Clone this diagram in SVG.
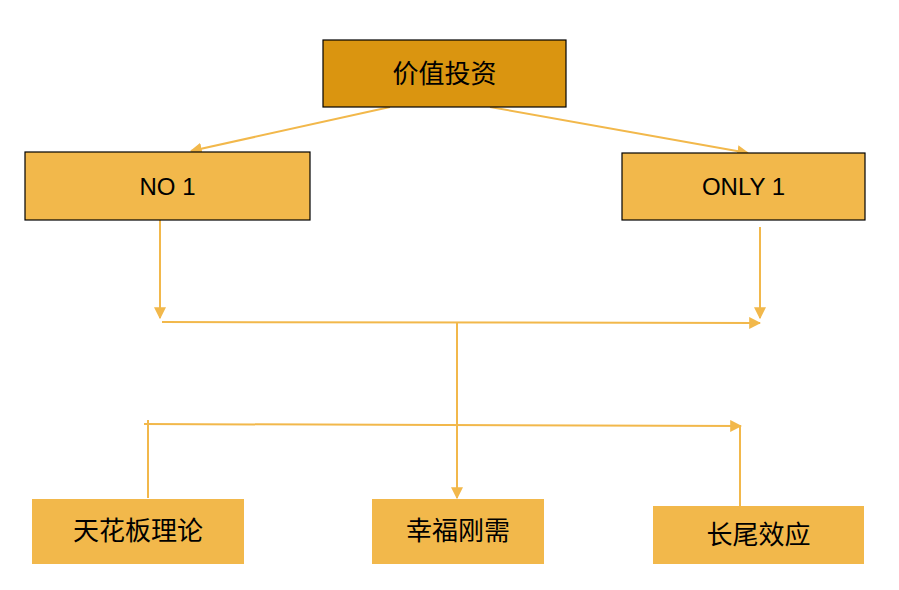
<svg xmlns="http://www.w3.org/2000/svg" width="899" height="590" viewBox="0 0 899 590">
<style>
.n{fill:#F2B84B}
.b{stroke:#000;stroke-width:1.2}
.t{font-family:"Liberation Sans","Noto Sans CJK SC",sans-serif;fill:#000;text-anchor:middle;dominant-baseline:central}
.c{stroke:#F2B84B;stroke-width:2;fill:none}
</style>
<defs>
<marker id="a" viewBox="0 0 10 10" refX="9" refY="5" markerWidth="6" markerHeight="6" orient="auto" markerUnits="strokeWidth">
<path d="M0,0L10,5L0,10z" fill="#F2B84B"/>
</marker>
</defs>
<rect width="899" height="590" fill="#fff"/>
<g id="connectors">
<line class="c" x1="390" y1="107" x2="191" y2="151" marker-end="url(#a)"/>
<line class="c" x1="490" y1="107" x2="748" y2="153" marker-end="url(#a)"/>
<line class="c" x1="160" y1="220" x2="160" y2="318" marker-end="url(#a)"/>
<line class="c" x1="760" y1="227" x2="760" y2="318" marker-end="url(#a)"/>
<line class="c" x1="162" y1="322" x2="760" y2="323" marker-end="url(#a)"/>
<line class="c" x1="457" y1="322" x2="457" y2="498" marker-end="url(#a)"/>
<line class="c" x1="148" y1="498" x2="148" y2="420"/>
<line class="c" x1="144" y1="424" x2="741" y2="426" marker-end="url(#a)"/>
<line class="c" x1="740" y1="425" x2="740" y2="506"/>
</g>
<g id="n0"><rect class="b" x="323" y="40" width="243" height="67" fill="#DA9510"/><text class="t" x="444.5" y="73.5" font-size="26">价值投资</text></g>
<g id="n1"><rect class="n b" x="25" y="152" width="285" height="68"/><text class="t" x="167.5" y="186" font-size="24">NO 1</text></g>
<g id="n2"><rect class="n b" x="622" y="153" width="243" height="67"/><text class="t" x="743.5" y="186.5" font-size="24">ONLY 1</text></g>
<g id="n3"><rect class="n" x="32" y="499" width="212" height="65"/><text class="t" x="138" y="531" font-size="26">天花板理论</text></g>
<g id="n4"><rect class="n" x="372" y="499" width="172" height="65"/><text class="t" x="458" y="531" font-size="26">幸福刚需</text></g>
<g id="n5"><rect class="n" x="653" y="506" width="211" height="58"/><text class="t" x="758.5" y="535" font-size="26">长尾效应</text></g>
</svg>
